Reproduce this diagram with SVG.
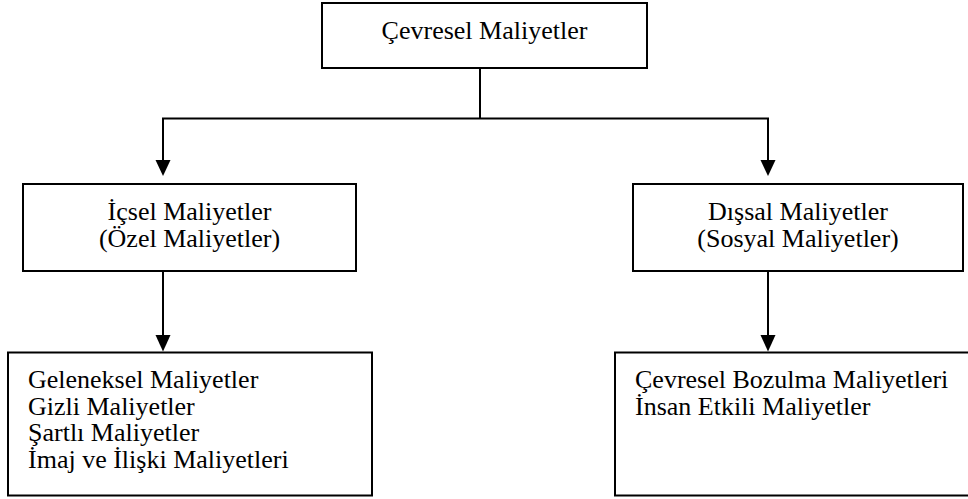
<svg xmlns="http://www.w3.org/2000/svg" width="968" height="499" viewBox="0 0 968 499">
<style>
.box{fill:#fff;stroke:#000;stroke-width:2}
.t{font-family:"Liberation Serif","Times New Roman",serif;font-size:26px;fill:#000}
.c{text-anchor:middle}
.ln{stroke:#000;stroke-width:2;fill:none}
.ah{fill:#000}
</style>
<rect width="968" height="499" fill="#fff"/>
<g id="connectors">
<line class="ln" x1="480" y1="68" x2="480" y2="118.5"/>
<line class="ln" x1="162" y1="118.5" x2="769" y2="118.5"/>
<path class="ln" d="M163,118.5 V161"/>
<path class="ah" d="M155.5,160 L170.5,160 L163,176 Z"/>
<path class="ln" d="M768,118.5 V161"/>
<path class="ah" d="M760.5,160 L775.5,160 L768,176 Z"/>
<path class="ln" d="M163,271 V336"/>
<path class="ah" d="M155.5,335 L170.5,335 L163,351.5 Z"/>
<path class="ln" d="M768,271 V336"/>
<path class="ah" d="M760.5,335 L775.5,335 L768,351.5 Z"/>
</g>
<g id="n-cevresel">
<rect class="box" x="322" y="3" width="325" height="65"/>
<text class="t c" x="484.5" y="38.5">Çevresel Maliyetler</text>
</g>
<g id="n-icsel">
<rect class="box" x="23" y="184" width="333" height="87"/>
<text class="t c" x="189.5" y="220">İçsel Maliyetler</text>
<text class="t c" x="189.5" y="246.5">(Özel Maliyetler)</text>
</g>
<g id="n-dissal">
<rect class="box" x="633" y="184" width="330" height="87"/>
<text class="t c" x="798" y="220">Dışsal Maliyetler</text>
<text class="t c" x="798" y="246.5">(Sosyal Maliyetler)</text>
</g>
<g id="n-icsel-list">
<rect class="box" x="8" y="352.5" width="364" height="143"/>
<text class="t" x="28" y="388">Geleneksel Maliyetler</text>
<text class="t" x="28" y="414.5">Gizli Maliyetler</text>
<text class="t" x="28" y="441">Şartlı Maliyetler</text>
<text class="t" x="28" y="467.5">İmaj ve İlişki Maliyetleri</text>
</g>
<g id="n-dissal-list">
<rect class="box" x="615" y="352.5" width="360" height="143"/>
<text class="t" x="635" y="388">Çevresel Bozulma Maliyetleri</text>
<text class="t" x="635" y="414.5">İnsan Etkili Maliyetler</text>
</g>
</svg>
